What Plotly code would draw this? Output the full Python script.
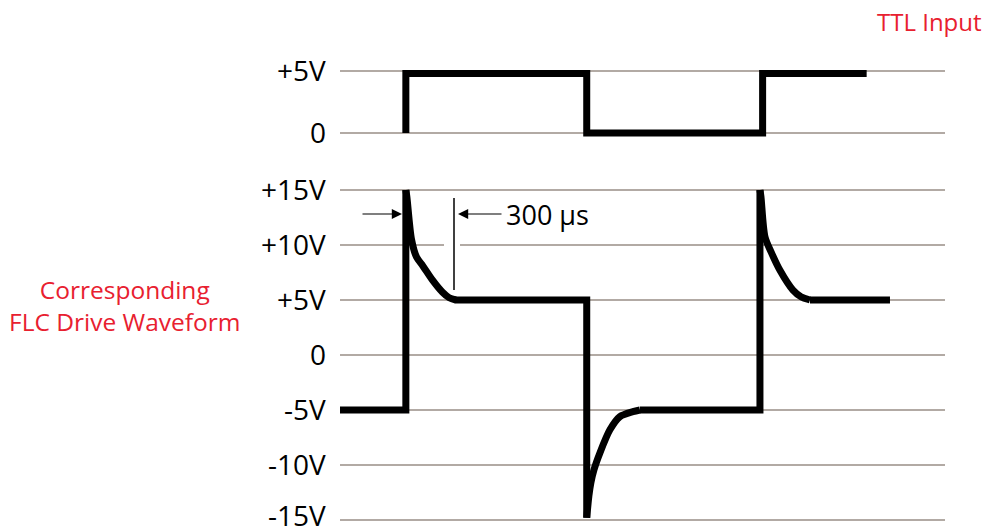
import plotly.graph_objects as go

# time in microseconds (t = 0 at first TTL rising edge), voltage in volts
ttl_t = [0, 0, 1085, 1085, 2140, 2140, 2764]
ttl_v = [0, 4.8, 4.8, 0, 0, 4.8, 4.8]

# straight parts of the FLC drive waveform (None breaks the line)
flc_edge_t = [-395, 0, 0, None, 294, 1085, 1085, None, 1404, 2124, 2124, None, 2424, 2904]
flc_edge_v = [-5, -5, 15, None, 5, 5, -14.8, None, -5, -5, 15, None, 5, 5]

# relaxation curves after each edge
rise1_t = [0, 6, 34, 64, 102, 160, 220, 260, 300]
rise1_v = [15, 14.4, 10.5, 8.9, 8.1, 6.8, 5.7, 5.2, 5.0]
fall_t = [1085, 1098, 1110, 1128, 1164, 1224, 1284, 1362, 1404]
fall_v = [-14.8, -12.8, -11.6, -10.45, -8.9, -6.8, -5.6, -5.15, -5.0]
rise2_t = [2124, 2130, 2154, 2190, 2244, 2322, 2370, 2424]
rise2_v = [15, 14.4, 10.75, 9.4, 7.7, 5.9, 5.3, 5.0]

ttl_ticks = [0, 5]
ttl_labels = ["0", "+5V"]
flc_ticks = [-15, -10, -5, 0, 5, 10, 15]
flc_labels = ["-15V", "-10V", "-5V", "0", "+5V", "+10V", "+15V"]

W, H = 984, 529
GRID = "#b2aaa4"
RED = "#e8202f"
FONT = "Open Sans"

def yf(py):
    return 1 - py / H

fig = go.Figure()
fig.add_trace(go.Scatter(x=ttl_t, y=ttl_v, mode="lines", yaxis="y2",
                         line=dict(color="black", width=7), hoverinfo="skip"))
fig.add_trace(go.Scatter(x=flc_edge_t, y=flc_edge_v, mode="lines", yaxis="y",
                         connectgaps=False,
                         line=dict(color="black", width=7), hoverinfo="skip"))
for ct, cv in [(rise1_t, rise1_v), (fall_t, fall_v), (rise2_t, rise2_v)]:
    fig.add_trace(go.Scatter(x=ct, y=cv, mode="lines", yaxis="y",
                             line=dict(color="black", width=7, shape="spline", smoothing=0.8),
                             hoverinfo="skip"))

x0 = -395
x1 = (945 - 406) * 6
px_per_t = (945 - 340) / (x1 - x0)

def tx(px):
    return x0 + (px - 340) / px_per_t

axis_common = dict(showgrid=True, gridcolor=GRID, gridwidth=2, zeroline=False,
                   showline=False, ticks="", showticklabels=False, automargin=False)

fig.update_layout(
    width=W, height=H,
    margin=dict(l=340, r=W - 945, t=0, b=0, autoexpand=False),
    paper_bgcolor="white", plot_bgcolor="white",
    showlegend=False,
    xaxis=dict(range=[x0, x1], visible=False, automargin=False),
    yaxis=dict(domain=[yf(525), yf(185)], range=[-15 - 5 / 11, 15 + 5 / 11],
               tickvals=flc_ticks, **axis_common),
    yaxis2=dict(domain=[yf(145), yf(60)], range=[-12 / 12.4, 5 + 11 / 12.4],
                tickvals=ttl_ticks, **axis_common),
)

# axis labels as text placed at the tick values
for yref, vals, labs in [("y2", ttl_ticks, ttl_labels), ("y", flc_ticks, flc_labels)]:
    for v, lab in zip(vals, labs):
        fig.add_annotation(x=0, xref="paper", y=v, yref=yref, text=lab,
                           showarrow=False, xanchor="right", yanchor="middle",
                           xshift=-12, yshift=5 if (yref == "y" and v == -15) else 1,
                           font=dict(family=FONT, size=28, color="black"))

# gap in +10V gridline around the 300 us marker
fig.add_shape(type="line", xref="x", yref="y", x0=tx(444), x1=tx(460), y0=10, y1=10,
              line=dict(color="white", width=4), layer="above")
# 300 us marker line
fig.add_shape(type="line", xref="x", yref="y", x0=tx(454), x1=tx(454),
              y0=(355 - 198) / 11, y1=(355 - 290) / 11,
              line=dict(color="black", width=1.5), layer="above")

ya = (355 - 214) / 11
fig.add_annotation(x=tx(402), y=ya, ax=tx(361), ay=ya, xref="x", yref="y",
                   axref="x", ayref="y", text="", showarrow=True,
                   arrowhead=2, arrowsize=1.7, arrowwidth=1.2, arrowcolor="black")
fig.add_annotation(x=tx(458), y=ya, ax=tx(503), ay=ya, xref="x", yref="y",
                   axref="x", ayref="y", text="", showarrow=True,
                   arrowhead=2, arrowsize=1.7, arrowwidth=1.2, arrowcolor="black")
fig.add_annotation(x=tx(504), y=ya, xref="x", yref="y", text="300 μs",
                   showarrow=False, xanchor="left", yanchor="middle",
                   font=dict(family=FONT, size=27, color="black"))

def pxp(px):
    return (px - 340) / (945 - 340)

fig.add_annotation(x=pxp(984), y=yf(22), xref="paper", yref="paper",
                   text="TTL Input", showarrow=False, xanchor="right", yanchor="middle",
                   font=dict(family=FONT, size=24, color=RED))
fig.add_annotation(x=pxp(124), y=yf(305), xref="paper", yref="paper",
                   text="Corresponding<br>FLC Drive Waveform", showarrow=False,
                   xanchor="center", yanchor="middle", align="center",
                   font=dict(family=FONT, size=24.5, color=RED))

fig.write_html("out.html", config={"displayModeBar": False},
               post_script="document.body.style.margin='0';")
